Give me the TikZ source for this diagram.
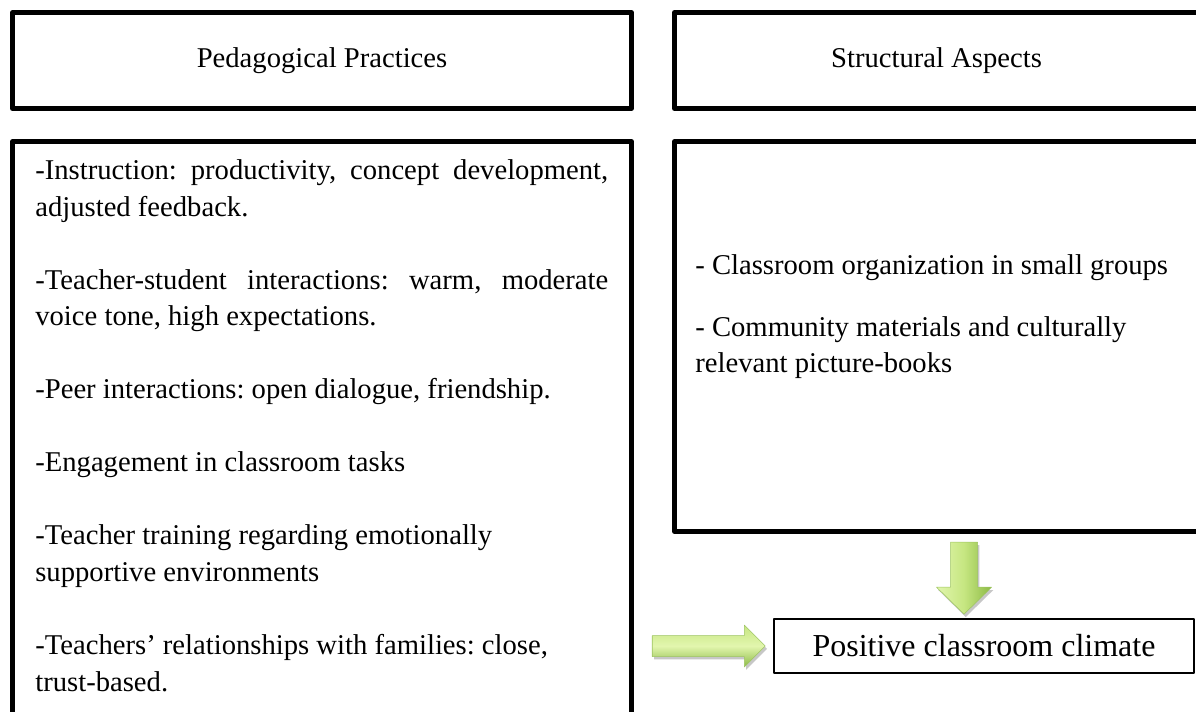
\documentclass[tikz,border=0pt]{standalone}
\usepackage{fontspec}
\setmainfont{Liberation Serif}
\definecolor{arrowlight}{HTML}{E2F6AE}
\definecolor{arrowmid}{HTML}{C6E681}
\definecolor{arrowdark}{HTML}{8CBA45}
\begin{document}
\begin{tikzpicture}[x=0.02cm, y=-0.02cm, line join=round, line cap=round,
		heavybox/.style={draw, line width=2.85pt, inner sep=0pt, font=\fontsize{16.3}{21}\selectfont},
		thinbox/.style={draw, line width=0.9pt, inner sep=0pt, font=\fontsize{18.2}{22}\selectfont},
		listtext/.style={inner sep=0pt, anchor=north west, font={\fontsize{16.3}{21}\selectfont\frenchspacing\hyphenpenalty=10000}},
		blockarrow/.style={draw=arrowdark!85, line width=0.3pt,
			preaction={fill=black, opacity=.22, transform canvas={xshift=1pt, yshift=-1.6pt}}}]
			\useasboundingbox (0,0) rectangle (1196,711);
			\node[heavybox, minimum width=12.38cm, minimum height=1.92cm] (pedtitle) at (322,60.5) {Pedagogical Practices};
			\node[heavybox, minimum width=10.48cm, minimum height=1.92cm] (structtitle) at (936.5,60.5) {Structural Aspects};
			\node[heavybox, minimum width=12.38cm, minimum height=12cm] (pedbox) at (322,441.5) {};
			\node[heavybox, minimum width=10.48cm, minimum height=7.8cm] (structbox) at (936.5,336.5) {};
			\node[thinbox, minimum width=8.4cm, minimum height=1.08cm] (climate) at (984,646) {Positive classroom climate};
			\node[listtext, align=justify, text width=11.46cm] (pedlist) at (35,159) {-Instruction: productivity, concept development,\linebreak adjusted feedback.\\[20.5pt]
				-Teacher-student interactions: warm, moderate\linebreak voice tone, high expectations.\\[20.5pt]
				-Peer interactions: open dialogue, friendship.\\[20.5pt]
				-Engagement in classroom tasks\\[20.5pt]
				-Teacher training regarding emotionally\\ supportive environments\\[20.5pt]
				-Teachers’ relationships with families: close,\\ trust-based.};
			\node[listtext, align=flush left, text width=10cm] (structlist) at (695,254) {- Classroom organization in small groups\\[14.2pt]
				- Community materials and culturally\\ relevant picture-books};
			\coordinate (intip) at ([xshift=-0.16cm]climate.west);
			\coordinate (downtip) at ([xshift=-0.4cm, yshift=0.08cm]climate.north);
			\begin{scope}[shift={(intip)}]
				\shade[blockarrow, top color=arrowmid, bottom color=arrowdark, middle color=arrowlight] (-113,-10.5)--(-21,-10.5)--(-21,-21)--(0,0)--(-21,21)--(-21,10.5)--(-113,10.5)--cycle;
			\end{scope}
			\begin{scope}[shift={(downtip)}]
				\shade[blockarrow, left color=arrowlight, right color=arrowdark, middle color=arrowmid] (-13.5,-72)--(13.5,-72)--(13.5,-27)--(27.5,-27)--(0,0)--(-27.5,-27)--(-13.5,-27)--cycle;
			\end{scope}
		\end{tikzpicture}
\end{document}
